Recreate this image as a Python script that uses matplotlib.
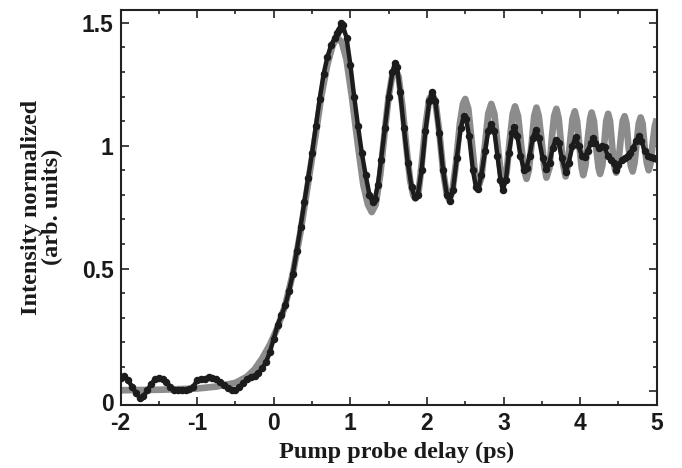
import matplotlib
matplotlib.use("Agg")
import matplotlib.pyplot as plt
import matplotlib.transforms as mtransforms
from matplotlib.ticker import MultipleLocator

plt.rcParams['axes.unicode_minus'] = False

# fit curve (gray)
fit_t = [-2.0, -1.5, -1.0, -0.75, -0.5, -0.35, -0.25, -0.15, -0.05, 0.05, 0.15, 0.25, 0.35,
         0.45, 0.55, 0.62, 0.7, 0.77, 0.83, 0.89, 0.95, 1.02, 1.1, 1.17, 1.23, 1.28, 1.33,
         1.39, 1.45, 1.5, 1.55, 1.59, 1.63, 1.68, 1.73, 1.78, 1.82, 1.85, 1.89, 1.93, 1.98,
         2.03, 2.07, 2.11, 2.16, 2.21, 2.26, 2.29, 2.33, 2.38, 2.43, 2.47, 2.5, 2.54, 2.59,
         2.63, 2.67, 2.71, 2.75, 2.8, 2.84, 2.88, 2.93, 2.97, 3.0, 3.04, 3.08, 3.12, 3.15,
         3.19, 3.23, 3.27, 3.3, 3.33, 3.37, 3.4, 3.43, 3.46, 3.5, 3.53, 3.56, 3.6, 3.63,
         3.66, 3.69, 3.72, 3.75, 3.78, 3.81, 3.84, 3.87, 3.9, 3.93, 3.96, 3.99, 4.02, 4.04,
         4.07, 4.1, 4.13, 4.15, 4.18, 4.21, 4.24, 4.26, 4.29, 4.32, 4.34, 4.365, 4.39, 4.42,
         4.45, 4.47, 4.5, 4.53, 4.555, 4.58, 4.605, 4.63, 4.66, 4.685, 4.71, 4.74, 4.765,
         4.79, 4.815, 4.84, 4.87, 4.895, 4.92, 4.95, 4.975, 5.0]
fit_y = [0.005, 0.007, 0.012, 0.02, 0.035, 0.06, 0.09, 0.135, 0.19, 0.26, 0.35, 0.48, 0.65,
         0.85, 1.05, 1.2, 1.33, 1.41, 1.44, 1.42, 1.35, 1.2, 1.0, 0.84, 0.76, 0.73, 0.76,
         0.88, 1.06, 1.2, 1.29, 1.31, 1.28, 1.16, 1.0, 0.86, 0.8, 0.785, 0.81, 0.92, 1.08,
         1.19, 1.21, 1.18, 1.06, 0.9, 0.8, 0.78, 0.81, 0.93, 1.09, 1.17, 1.19, 1.15, 1.0,
         0.88, 0.83, 0.87, 0.98, 1.13, 1.17, 1.13, 0.98, 0.88, 0.85, 0.89, 1.02, 1.13, 1.16,
         1.12, 1.0, 0.9, 0.865, 0.9, 1.02, 1.12, 1.155, 1.12, 1.01, 0.92, 0.87, 0.91, 1.03,
         1.12, 1.15, 1.11, 1.01, 0.92, 0.875, 0.92, 1.02, 1.11, 1.14, 1.1, 1.0, 0.91, 0.88,
         0.92, 1.03, 1.11, 1.135, 1.1, 0.99, 0.91, 0.885, 0.92, 1.03, 1.1, 1.13, 1.1, 0.99,
         0.91, 0.89, 0.93, 1.03, 1.1, 1.12, 1.09, 1.0, 0.92, 0.895, 0.93, 1.02, 1.09,
         1.115, 1.09, 1.0, 0.93, 0.9, 0.93, 1.02, 1.08, 1.11]

# measured data (black)
data_t = [-2.0, -1.95, -1.9, -1.85, -1.8, -1.75, -1.7, -1.65, -1.6, -1.55, -1.5, -1.45, -1.4,
          -1.35, -1.3, -1.25, -1.2, -1.15, -1.1, -1.05, -1.0, -0.95, -0.9, -0.85, -0.8, -0.75,
          -0.7, -0.65, -0.6, -0.55, -0.5, -0.45, -0.4, -0.35, -0.3, -0.25, -0.2, -0.15, -0.1,
          -0.05, 0.0, 0.05, 0.1, 0.15, 0.2, 0.25, 0.3, 0.35, 0.4, 0.45, 0.5, 0.55, 0.6, 0.65,
          0.7, 0.75, 0.8, 0.83, 0.85, 0.88, 0.9, 0.95, 1.0, 1.05, 1.1, 1.15, 1.2, 1.25, 1.29,
          1.32, 1.36, 1.4, 1.45, 1.5, 1.55, 1.58, 1.61, 1.65, 1.7, 1.75, 1.8, 1.84, 1.88,
          1.93, 1.98, 2.03, 2.07, 2.11, 2.16, 2.21, 2.26, 2.3, 2.34, 2.39, 2.44, 2.48, 2.51,
          2.55, 2.6, 2.64, 2.67, 2.71, 2.76, 2.8, 2.84, 2.88, 2.92, 2.96, 2.99, 3.03, 3.07,
          3.11, 3.14, 3.18, 3.22, 3.27, 3.3, 3.34, 3.38, 3.42, 3.46, 3.51, 3.56, 3.6, 3.64,
          3.68, 3.72, 3.76, 3.81, 3.85, 3.9, 3.94, 3.98, 4.02, 4.06, 4.1, 4.14, 4.17, 4.2,
          4.24, 4.28, 4.32, 4.36, 4.4, 4.44, 4.47, 4.5, 4.54, 4.58, 4.62, 4.65, 4.69, 4.73,
          4.77, 4.8, 4.84, 4.88, 4.92, 4.96, 5.0]
data_y = [0.055, 0.065, 0.045, 0.02, -0.005, -0.025, -0.02, 0.005, 0.03, 0.05, 0.055, 0.05,
          0.038, 0.02, 0.008, 0.006, 0.008, 0.006, 0.01, 0.02, 0.045, 0.05, 0.052, 0.058,
          0.055, 0.05, 0.04, 0.028, 0.015, 0.008, 0.005, 0.018, 0.033, 0.05, 0.058, 0.065,
          0.075, 0.095, 0.12, 0.16, 0.215, 0.27, 0.31, 0.35, 0.41, 0.48, 0.57, 0.67, 0.77,
          0.87, 0.97, 1.08, 1.19, 1.29, 1.36, 1.41, 1.44, 1.46, 1.47, 1.5, 1.49, 1.44, 1.33,
          1.2, 1.08, 0.97, 0.88, 0.8, 0.77, 0.785, 0.84, 0.94, 1.07, 1.2, 1.3, 1.335, 1.32,
          1.22, 1.07, 0.93, 0.83, 0.79, 0.8, 0.9, 1.06, 1.18, 1.22, 1.18, 1.05, 0.9, 0.8,
          0.775, 0.82, 0.95, 1.07, 1.12, 1.11, 1.04, 0.9, 0.83, 0.825, 0.88, 0.98, 1.06,
          1.09, 1.06, 0.96, 0.86, 0.82, 0.86, 0.97, 1.05, 1.075, 1.04, 0.96, 0.9, 0.91, 0.96,
          1.03, 1.065, 1.03, 0.95, 0.905, 0.93, 0.99, 1.025, 1.01, 0.95, 0.895, 0.93, 1.0,
          1.035, 1.0, 0.96, 0.955, 0.98, 1.01, 1.03, 1.01, 0.99, 1.0, 0.995, 0.96, 0.94,
          0.93, 0.9, 0.92, 0.94, 0.95, 0.96, 0.97, 0.99, 1.02, 1.04, 1.02, 0.98, 0.96, 0.955,
          0.95, 0.945]

x_ticks = [-2, -1, 0, 1, 2, 3, 4, 5]
y_ticks = [0, 0.5, 1, 1.5]
y_ticklabels = ["0", "0.5", "1", "1.5"]

fig = plt.figure(figsize=(6.82, 4.68), dpi=100)
ax = fig.add_axes([0.1767, 0.1346, 0.7863, 0.8440])

ax.plot(fit_t, fit_y, color='#8c8c8c', lw=4.8, solid_capstyle='butt', zorder=2)
ax.plot(data_t, data_y, color='#1c1c1c', lw=3.2, marker='o', ms=4.4, zorder=3)

ax.set_xlim(-2, 5)
ax.set_ylim(-0.055, 1.552)

ax.set_xticks(x_ticks)
ax.set_xticklabels([str(v) for v in x_ticks])
ax.set_yticks(y_ticks)
ax.set_yticklabels(y_ticklabels)
ax.xaxis.set_minor_locator(MultipleLocator(0.5))
ax.yaxis.set_minor_locator(MultipleLocator(0.1))

ax.tick_params(which='both', direction='in', top=True, right=True, width=1.2, color='#222222')
ax.tick_params(which='major', length=6, pad=5)
ax.tick_params(which='minor', length=3)
for lab in ax.get_xticklabels() + ax.get_yticklabels():
    lab.set_fontfamily('Liberation Sans')
    lab.set_fontweight('bold')
    lab.set_fontsize(16.5)
    lab.set_color('#1a1a1a')

# the "0" label sits lower than its tick in the original
zero_lab = ax.get_yticklabels()[0]
zero_lab.set_transform(zero_lab.get_transform() +
                       mtransforms.ScaledTranslation(0, -11 / 100, fig.dpi_scale_trans))

for sp in ax.spines.values():
    sp.set_linewidth(1.5)
    sp.set_color('#222222')

fig.text(397 / 682, 1 - 452 / 468, "Pump probe delay (ps)", ha='center', va='center',
         fontfamily='Liberation Serif', fontweight='bold', fontsize=17.5, color='#1a1a1a')
fig.text(42 / 682, 1 - 207 / 468, "Intensity normalized\n(arb. units)", ha='center',
         va='center', rotation=90, multialignment='center', linespacing=1.05,
         fontfamily='Liberation Serif', fontweight='bold', fontsize=17.5, color='#1a1a1a')

fig.savefig("out.png", dpi=100)
